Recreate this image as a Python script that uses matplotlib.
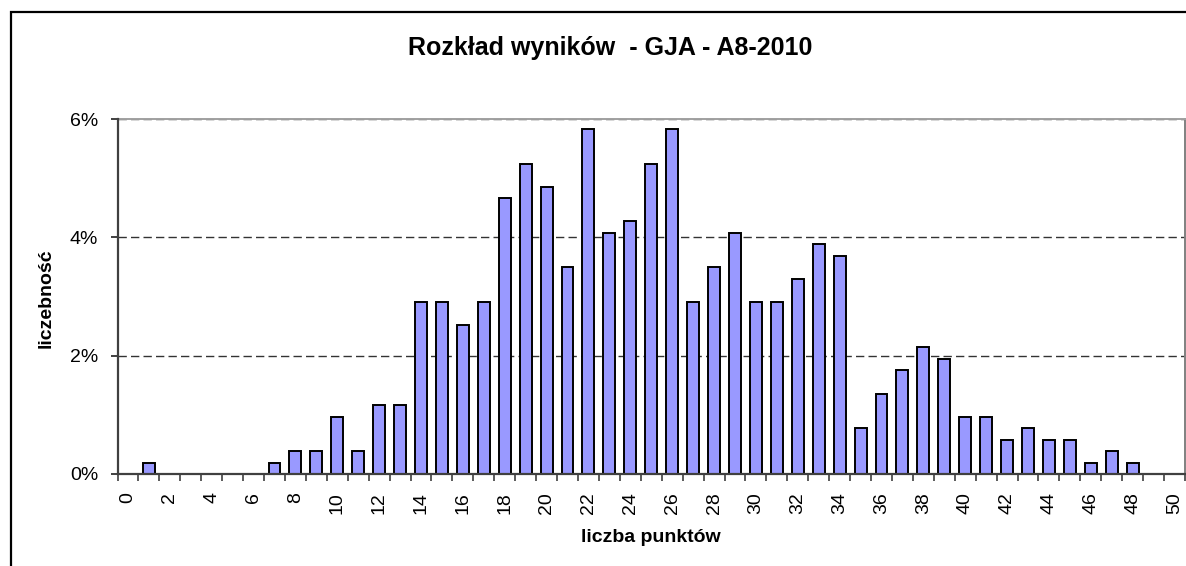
import numpy as np
import matplotlib
matplotlib.use("Agg")
from matplotlib import pyplot as plt
from matplotlib.patches import Rectangle
from matplotlib.ticker import FuncFormatter

plt.rcParams['font.family'] = ['Liberation Sans', 'DejaVu Sans']

# liczba punktów 0..50 i odsetek uczniów (%)
points = list(range(0, 51))
share = [0.00, 0.19, 0.00, 0.00, 0.00, 0.00, 0.00, 0.19, 0.39, 0.39,
         0.97, 0.39, 1.17, 1.17, 2.91, 2.91, 2.52, 2.91, 4.66, 5.24,
         4.85, 3.50, 5.83, 4.08, 4.27, 5.24, 5.83, 2.91, 3.50, 4.08,
         2.91, 2.91, 3.30, 3.88, 3.69, 0.78, 1.36, 1.75, 2.14, 1.94,
         0.97, 0.97, 0.58, 0.78, 0.58, 0.58, 0.19, 0.39, 0.19, 0.00,
         0.00]
x_labels = [str(p) if p % 2 == 0 else '' for p in points]
y_ticks = [0, 2, 4, 6]

W, H = 1186, 566
fig = plt.figure(figsize=(W / 100, H / 100), dpi=100)
fig.patch.set_facecolor('white')

# ramka obszaru wykresu (ucięta z prawej i u dołu)
fig.patches.append(Rectangle((10.5 / W, -0.2), 1.5, 1 - 12 / H + 0.2,
                             transform=fig.transFigure, fill=False,
                             edgecolor='black', linewidth=1.6))

ax = fig.add_axes([117.5 / W, (H - 474) / H, (1185 - 117.5) / W, (474 - 119) / H])
ax.bar(points, share, width=0.57, color='#9999FF', edgecolor='black',
       linewidth=1.4, zorder=2)

ax.set_xlim(-0.5, 50.5)
ax.set_ylim(0, 6)
ax.set_xticks(points)
ax.set_xticklabels(x_labels, rotation=90, fontsize=14)
ax.set_xticks(np.arange(-0.5, 51, 1), minor=True)
ax.tick_params(axis='x', which='major', length=0, pad=13)
ax.tick_params(axis='x', which='minor', length=5, width=1.2, color='#404040')

ax.set_yticks(y_ticks)
ax.yaxis.set_major_formatter(FuncFormatter(lambda v, _: f'{v:.0f}%'))
ax.tick_params(axis='y', length=5, width=1.4, color='#404040', pad=9, labelsize=14)

ax.set_axisbelow(True)
ax.grid(axis='y', color='#333333', linestyle=(0, (6, 3)), linewidth=1.0)

for side in ('left', 'bottom'):
    ax.spines[side].set_color('#404040')
    ax.spines[side].set_linewidth(1.6)
    ax.spines[side].set_zorder(3)
ax.spines['top'].set_color('#a0a0a0')
ax.spines['top'].set_linewidth(1.4)
ax.spines['right'].set_color('#808080')
ax.spines['right'].set_linewidth(1.4)

fig.text(610 / W, 1 - 48 / H, 'Rozkład wyników  - GJA - A8-2010',
         ha='center', va='center', fontsize=18, fontweight='bold')
fig.text(651 / W, 1 - 537 / H, 'liczba punktów',
         ha='center', va='center', fontsize=14, fontweight='bold')
fig.text(46 / W, 1 - 298 / H, 'liczebność', rotation=90,
         ha='center', va='center', fontsize=14, fontweight='bold')

fig.savefig('out.png', dpi=100)
